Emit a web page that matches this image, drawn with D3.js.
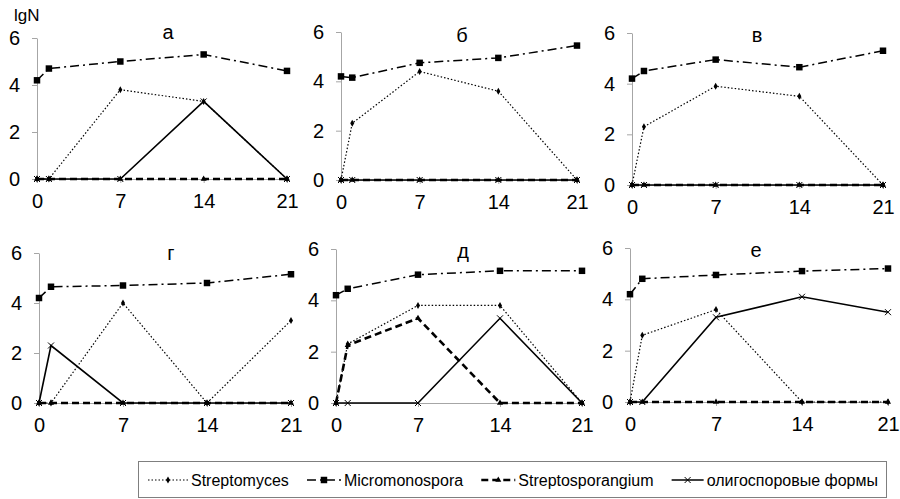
<!DOCTYPE html>
<meta charset="utf-8" />
<script src="https://d3js.org/d3.v7.min.js"></script>
<style>
  body { margin: 0; background: #fff; }
  text { font-family: "Liberation Sans", Arial, sans-serif; fill: #000; }
</style>
<body>
<div id="chart"></div>
<script>
  // days of sampling and panel letters
  var days = [0, 1, 7, 14, 21];
  var dayTicks = [0, 7, 14, 21];
  var yTicks = [0, 2, 4, 6];
  var panelNames = ["а", "б", "в", "г", "д", "е"];

  // lgN values, one row per panel (а..е)
  var streptomyces = [
    [0, 0, 3.8, 3.3, 0],
    [0, 2.3, 4.4, 3.6, 0],
    [0, 2.3, 3.9, 3.5, 0],
    [0, 0, 4.0, 0, 3.3],
    [0, 2.3, 3.8, 3.8, 0],
    [0, 2.6, 3.6, 0, 0]
  ];
  var micromonospora = [
    [4.2, 4.7, 5.0, 5.3, 4.6],
    [4.2, 4.15, 4.75, 4.95, 5.45],
    [4.2, 4.5, 4.95, 4.65, 5.3],
    [4.2, 4.65, 4.7, 4.8, 5.15],
    [4.2, 4.45, 5.0, 5.15, 5.15],
    [4.2, 4.8, 4.95, 5.1, 5.2]
  ];
  var streptosporangium = [
    [0, 0, 0, 0, 0],
    [0, 0, 0, 0, 0],
    [0, 0, 0, 0, 0],
    [0, 0, 0, 0, 0],
    [0, 2.25, 3.3, 0, 0],
    [0, 0, 0, 0, 0]
  ];
  var oligospore = [
    [0, 0, 0, 3.3, 0],
    [0, 0, 0, 0, 0],
    [0, 0, 0, 0, 0],
    [0, 2.3, 0, 0, 0],
    [0, 0, 0, 3.3, 0],
    [0, 0, 3.3, 4.1, 3.5]
  ];
  var seriesNames = ["Streptomyces", "Micromonospora", "Streptosporangium", "олигоспоровые формы"];

  // plot areas of the six panels (+ title position)
  var frames = [
    { x0: 37, x1: 287, top: 38, bottom: 179, tx: 168, ty: 39 },
    { x0: 341, x1: 577, top: 32, bottom: 180, tx: 462, ty: 42 },
    { x0: 632, x1: 883, top: 33, bottom: 185, tx: 757, ty: 42 },
    { x0: 39, x1: 291, top: 253, bottom: 403, tx: 171, ty: 260 },
    { x0: 336, x1: 582, top: 249, bottom: 403, tx: 463, ty: 258 },
    { x0: 630, x1: 888, top: 248, bottom: 402, tx: 756, ty: 257 }
  ];

  // line style per series
  var styles = [
    { data: streptomyces, width: 1.2, dash: "1.5,2", marker: "diamond", size: 14, len: 40 },
    { data: micromonospora, width: 1.5, dash: "9,4,2,4", marker: "square", size: 42, len: 34 },
    { data: streptosporangium, width: 2.6, dash: "7,4", marker: "triangle", size: 16, len: 34 },
    { data: oligospore, width: 1.6, dash: null, marker: "cross", size: 0, len: 32 }
  ];

  var width = 900, height = 499;
  var svg = d3.select("#chart").append("svg")
    .attr("width", width)
    .attr("height", height);

  svg.append("text")
    .attr("x", 14)
    .attr("y", 21)
    .style("font-size", "17px")
    .text("lgN");

  frames.forEach(function(f, p) {
    var x = d3.scaleLinear().domain([0, 21]).range([f.x0, f.x1]);
    var y = d3.scaleLinear().domain([0, 6]).range([f.bottom, f.top]);

    var g = svg.append("g");

    // y axis
    var ya = g.append("g")
      .attr("transform", "translate(" + f.x0 + ",0)")
      .call(d3.axisLeft(y).tickValues(yTicks).tickFormat(d3.format("d"))
        .tickSize(5).tickPadding(12).tickSizeOuter(0));
    // x axis
    var xa = g.append("g")
      .attr("transform", "translate(0," + f.bottom + ")")
      .call(d3.axisBottom(x).tickValues(dayTicks).tickFormat(d3.format("d"))
        .tickSize(4).tickPadding(11).tickSizeOuter(0));

    [ya, xa].forEach(function(a) {
      a.select(".domain").attr("stroke", "#a6a6a6");
      a.selectAll(".tick line").attr("stroke", "#a6a6a6");
      a.selectAll(".tick text")
        .style("font-size", "20px")
        .style("font-family", "'Liberation Sans', Arial, sans-serif")
        .attr("fill", "#000");
    });

    // panel letter
    g.append("text")
      .attr("x", f.tx)
      .attr("y", f.ty)
      .attr("text-anchor", "middle")
      .style("font-size", "20px")
      .text(panelNames[p]);

    var line = d3.line()
      .x(function(d, i) { return x(days[i]); })
      .y(function(d) { return y(d); });

    // draw lines (solid one under the thick dashed)
    [3, 0, 1, 2].forEach(function(s) {
      var st = styles[s];
      var vals = st.data[p];
      g.append("path")
        .datum(vals)
        .attr("d", line)
        .attr("fill", "none")
        .attr("stroke", "#000")
        .attr("stroke-width", st.width)
        .attr("stroke-dasharray", st.dash);
      drawMarkers(g, vals, st, x, y);
    });
  });

  function markerPath(g, st, tx, ty) {
    if (st.marker === "cross") {
      return g.append("path")
        .attr("transform", "translate(" + tx + "," + ty + ")")
        .attr("d", "M-3,-3L3,3M-3,3L3,-3")
        .attr("stroke", "#000")
        .attr("stroke-width", 1);
    }
    var type = st.marker === "square" ? d3.symbolSquare
      : st.marker === "diamond" ? d3.symbolDiamond : d3.symbolTriangle;
    return g.append("path")
      .attr("transform", "translate(" + tx + "," + ty + ")")
      .attr("d", d3.symbol().type(type).size(st.size))
      .attr("fill", "#000");
  }

  function drawMarkers(g, vals, st, x, y) {
    vals.forEach(function(d, i) {
      markerPath(g, st, x(days[i]), y(d));
    });
  }

  // legend
  var legend = svg.append("g");
  legend.append("rect")
    .attr("x", 138.5)
    .attr("y", 461.5)
    .attr("width", 748)
    .attr("height", 36)
    .attr("fill", "none")
    .attr("stroke", "#7f7f7f");

  var items = seriesNames.map(function(name, s) {
    var st = styles[s];
    var item = legend.append("g");
    item.append("line")
      .attr("x1", 0).attr("x2", st.len)
      .attr("stroke", "#000")
      .attr("stroke-width", st.width)
      .attr("stroke-dasharray", st.dash);
    markerPath(item, st, st.len / 2, 0);
    var t = item.append("text")
      .attr("x", st.len + 3)
      .attr("y", 6)
      .style("font-size", "16px")
      .text(name);
    return { g: item, w: st.len + 3 + t.node().getComputedTextLength() };
  });
  var startX = 148, endX = 878;
  var total = d3.sum(items, function(d) { return d.w; });
  var gap = (endX - startX - total) / (items.length - 1);
  var cx = startX;
  items.forEach(function(it) {
    it.g.attr("transform", "translate(" + cx + ",480)");
    cx += it.w + gap;
  });
</script>
</body>
